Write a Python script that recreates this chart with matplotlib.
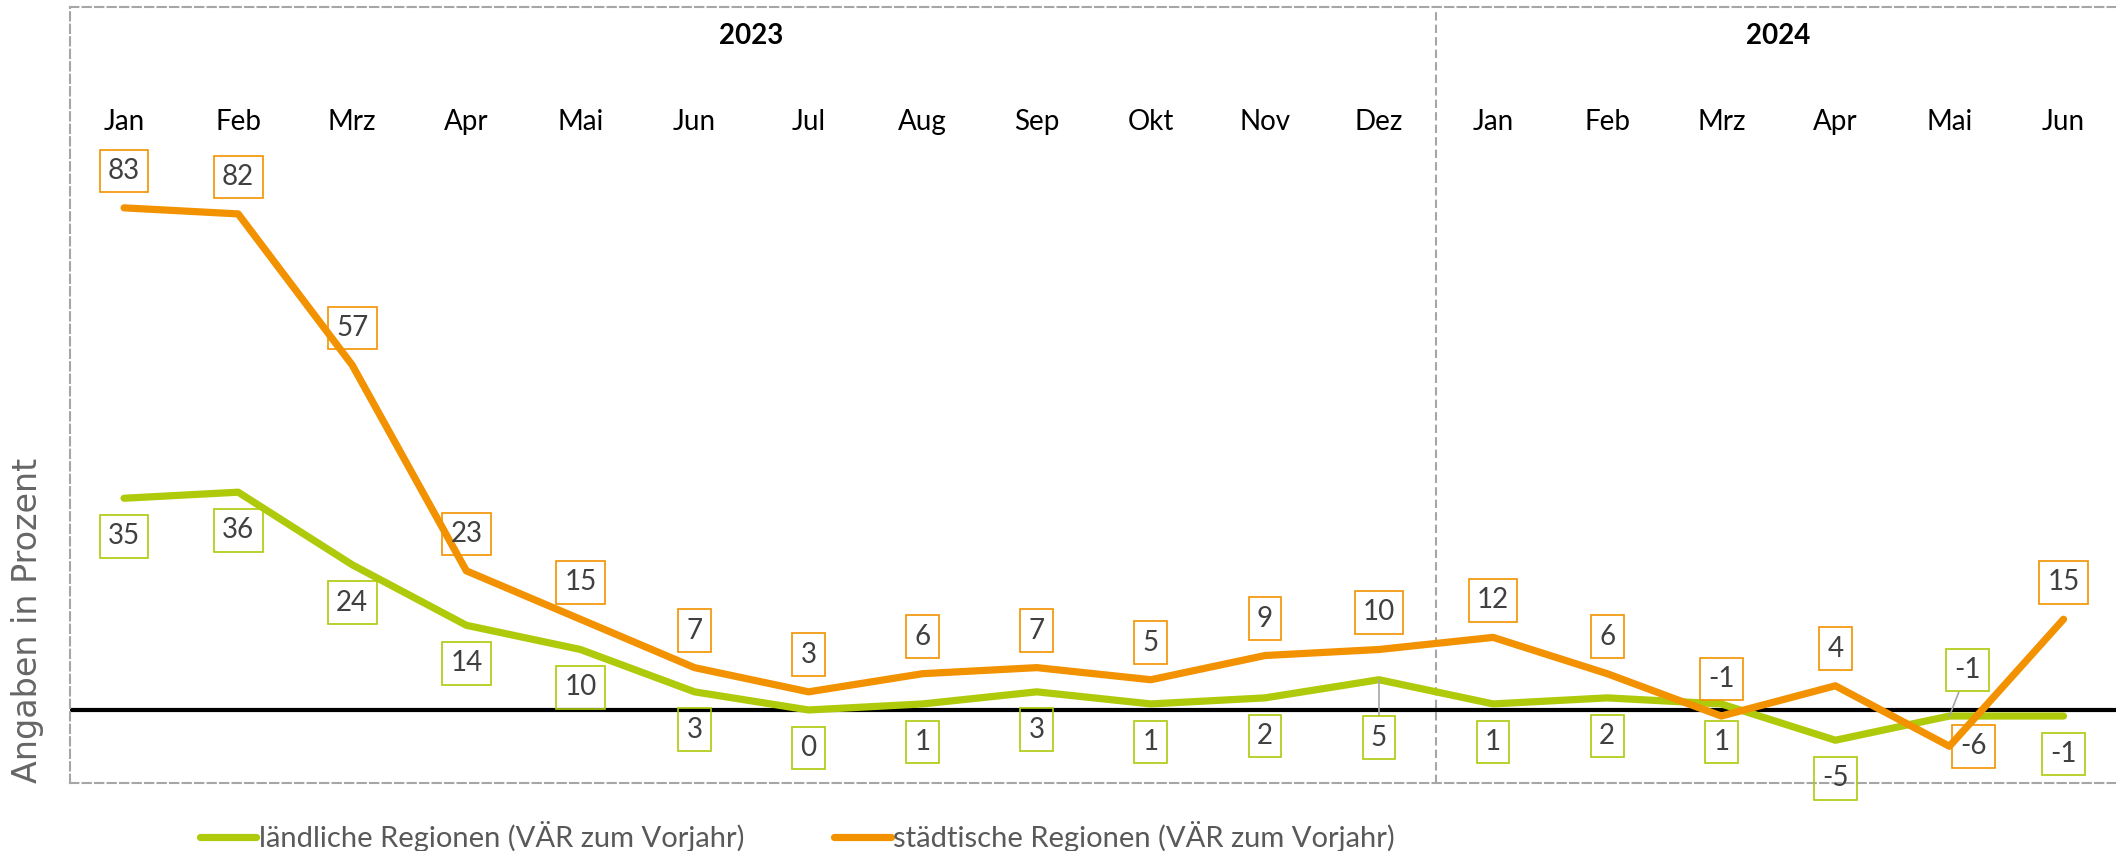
import matplotlib
matplotlib.use("Agg")
import matplotlib.pyplot as plt
import matplotlib.transforms as mtransforms
from matplotlib.lines import Line2D

# data
months = ["Jan", "Feb", "Mrz", "Apr", "Mai", "Jun", "Jul", "Aug", "Sep", "Okt", "Nov", "Dez",
          "Jan", "Feb", "Mrz", "Apr", "Mai", "Jun"]
years = ["2023", "2024"]
months_per_year = [12, 6]
laendlich = [35, 36, 24, 14, 10, 3, 0, 1, 3, 1, 2, 5, 1, 2, 1, -5, -1, -1]
staedtisch = [83, 82, 57, 23, 15, 7, 3, 6, 7, 5, 9, 10, 12, 6, -1, 4, -6, 15]
name_laendlich = "ländliche Regionen (VÄR zum Vorjahr)"
name_staedtisch = "städtische Regionen (VÄR zum Vorjahr)"
ylabel = "Angaben in Prozent"

GREEN = "#AFCA0B"
ORANGE = "#F39200"
GRID = "#A6A6A6"
TEXT = "#404040"

# label offsets in pixels (default: orange above, green below)
green_off = {11: (0, -58), 16: (18, 46)}
orange_off = {16: (24, 0)}
leader = {11, 16}

plt.rcParams["font.family"] = ["Lato", "DejaVu Sans"]

W, H = 2116, 851
fig = plt.figure(figsize=(W / 100, H / 100), dpi=100)
ax = fig.add_axes([70 / W, 1 - 783 / H, 1 - 70 / W, 776 / H])

x = list(range(len(months)))
ax.axhline(0, color="black", lw=3, zorder=1)
ax.plot(x, laendlich, color=GREEN, lw=5.2, solid_capstyle="round",
        solid_joinstyle="round", zorder=2)
ax.plot(x, staedtisch, color=ORANGE, lw=5.2, solid_capstyle="round",
        solid_joinstyle="round", zorder=3)

ax.set_xlim(-0.474, 17.46)
ax.set_ylim(-12.07, 116.2)
ax.set_xticks([])
ax.set_yticks([])

for side in ["left", "top", "bottom"]:
    ax.spines[side].set_color(GRID)
    ax.spines[side].set_linewidth(1.5)
    ax.spines[side].set_linestyle((0, (4, 2)))
ax.spines["right"].set_visible(False)

# year divider and labels
trans = mtransforms.blended_transform_factory(ax.transData, ax.transAxes)
start = 0
for yr, n in zip(years, months_per_year):
    ax.text(start + (n - 1) / 2, 0.962, yr, transform=trans, ha="center", va="center",
            fontsize=20, fontweight="bold", color="black")
    if start > 0:
        ax.axvline(start - 0.5, color=GRID, lw=1.5, ls=(0, (4, 2)), zorder=0)
    start += n

for i, m in enumerate(months):
    ax.text(i, 0.852, m, transform=trans, ha="center", va="center",
            fontsize=20, color="black")


def add_labels(values, color, default, offsets):
    for i, v in enumerate(values):
        dx, dy = offsets.get(i, default)
        arrow = None
        if color == GREEN and i in leader:
            arrow = dict(arrowstyle="-", color=GRID, lw=1.2, shrinkA=0, shrinkB=0)
        ax.annotate(str(v), (i, v), xytext=(dx, dy), textcoords="offset pixels",
                    ha="center", va="center", fontsize=20, color=TEXT, zorder=5,
                    bbox=dict(boxstyle="square,pad=0.3", fc="none", ec=color, lw=1.2),
                    arrowprops=arrow)


add_labels(laendlich, GREEN, (0, -38), green_off)
add_labels(staedtisch, ORANGE, (0, 37), orange_off)

# y label
fig.text(28 / W, 1 - 620 / H, ylabel, rotation=90, ha="center", va="center",
         fontsize=24, color="#666666", family="DejaVu Sans")

# legend
ly = 1 - 837 / H
fig.add_artist(Line2D([200 / W, 256 / W], [ly, ly], transform=fig.transFigure,
                      color=GREEN, lw=5.2, solid_capstyle="round"))
fig.text(259 / W, ly, name_laendlich, ha="left", va="center", fontsize=21, color="#595959")
fig.add_artist(Line2D([834 / W, 891 / W], [ly, ly], transform=fig.transFigure,
                      color=ORANGE, lw=5.2, solid_capstyle="round"))
fig.text(893 / W, ly, name_staedtisch, ha="left", va="center", fontsize=21, color="#595959")

fig.savefig("out.png", dpi=100)
